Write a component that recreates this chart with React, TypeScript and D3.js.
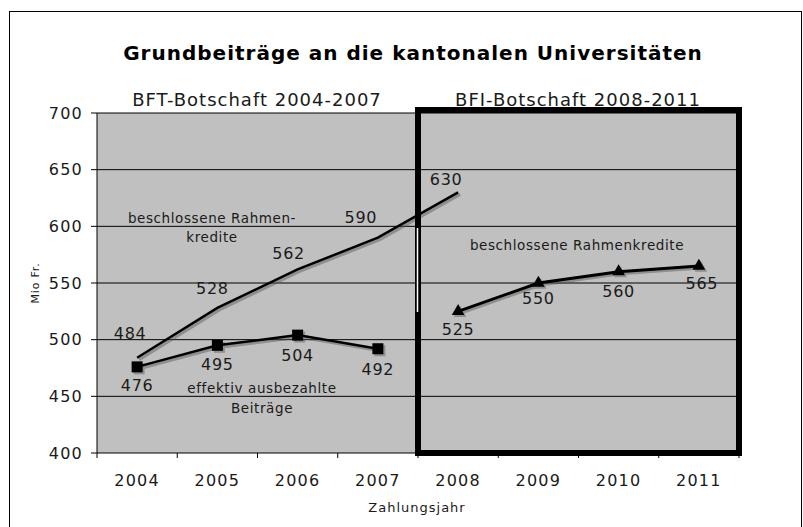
import React from "react";
import * as d3 from "d3";

// values
const years = ["2004", "2005", "2006", "2007", "2008", "2009", "2010", "2011"];
const rahmenYears = ["2004", "2005", "2006", "2007", "2008"];
const rahmenValues = [484, 528, 562, 590, 630];
const effektivYears = ["2004", "2005", "2006", "2007"];
const effektivValues = [476, 495, 504, 492];
const bfiYears = ["2008", "2009", "2010", "2011"];
const bfiValues = [525, 550, 560, 565];
const yTicks = [400, 450, 500, 550, 600, 650, 700];

const FONT = "'DejaVu Sans', Verdana, sans-serif";
const INK = "#1a1a1a";

export default function App() {
  const width = 803;
  const height = 527;
  const left = 97;
  const right = 739;
  const top = 113;
  const bottom = 453;

  const x = d3.scaleBand().domain(years).range([left, right]).padding(0);
  const y = d3.scaleLinear().domain([400, 700]).range([bottom, top]);
  const cx = (yr) => x(yr) + x.bandwidth() / 2;

  const line = d3.line().x((d) => cx(d[0])).y((d) => y(d[1]));

  const rahmen = rahmenYears.map((yr, i) => [yr, rahmenValues[i]]);
  const effektiv = effektivYears.map((yr, i) => [yr, effektivValues[i]]);
  const bfi = bfiYears.map((yr, i) => [yr, bfiValues[i]]);

  // label offsets relative to the point (centre of text)
  const rahmenOff = [[-7, -24], [-5, -19], [-9, -16], [-17, -20], [-12, -13]];
  const effOff = [[0, 19], [0, 19], [0, 20], [0, 21]];
  const bfiOff = [[0, 18], [0, 15], [0, 20], [3, 17]];

  const tri = d3.symbol().type(d3.symbolTriangle).size(70);

  // box around the BFI period
  const boxL = x("2008");
  const boxR = right;

  const label = { fontFamily: FONT, fontSize: 16, letterSpacing: 0.7, fill: INK };
  const note = { fontFamily: FONT, fontSize: 13.5, letterSpacing: 0.6, fill: INK };

  return (
    <svg width={width} height={height} style={{ position: "absolute", left: 0, top: 0 }}>
      <rect x={0} y={0} width={width} height={height} fill="#fff" />
      <rect x={9.5} y={11.5} width={792} height={530} fill="none" stroke="#000" strokeWidth={1} />

      <text x={413} y={53} textAnchor="middle" dominantBaseline="central"
        fontFamily={FONT} fontWeight="bold" fontSize={20} letterSpacing={1} fill="#000">
        Grundbeiträge an die kantonalen Universitäten
      </text>
      <text x={257} y={99} textAnchor="middle" dominantBaseline="central" fontFamily={FONT} fontSize={18} letterSpacing={1} fill={INK}>
        BFT-Botschaft 2004-2007
      </text>
      <text x={578} y={99} textAnchor="middle" dominantBaseline="central" fontFamily={FONT} fontSize={18} letterSpacing={1} fill={INK}>
        BFI-Botschaft 2008-2011
      </text>

      {/* plot area */}
      <rect x={left} y={top} width={right - left} height={bottom - top} fill="#c0c0c0" />
      {yTicks.slice(1).map((t) => (
        <line key={t} x1={left} x2={right} y1={y(t)} y2={y(t)} stroke="#000" strokeWidth={1} />
      ))}
      <line x1={left} x2={left} y1={top} y2={bottom} stroke="#000" />
      <line x1={left} x2={right} y1={bottom} y2={bottom} stroke="#000" />
      {yTicks.map((t) => (
        <g key={t}>
          <line x1={left - 6} x2={left} y1={y(t)} y2={y(t)} stroke="#000" />
          <text x={83} y={y(t)} textAnchor="end" dominantBaseline="central" fontFamily={FONT} fontSize={16} letterSpacing={1.2} fill={INK}>
            {t}
          </text>
        </g>
      ))}
      {years.concat(["end"]).map((yr, i) => {
        const xx = i < years.length ? x(yr) : right;
        return <line key={yr} x1={xx} x2={xx} y1={bottom} y2={bottom + 5} stroke="#000" />;
      })}
      {years.map((yr) => (
        <text key={yr} x={cx(yr)} y={480} textAnchor="middle" dominantBaseline="central" fontFamily={FONT} fontSize={16} letterSpacing={1.2} fill={INK}>
          {yr}
        </text>
      ))}
      <text x={417} y={507} textAnchor="middle" dominantBaseline="central" fontFamily={FONT} fontSize={13} letterSpacing={1} fill={INK}>
        Zahlungsjahr
      </text>
      <text transform="translate(35,283) rotate(-90)" textAnchor="middle" dominantBaseline="central" fontFamily={FONT} fontSize={11} letterSpacing={0.8} fill={INK}>
        Mio Fr.
      </text>

      {/* shadows */}
      <g transform="translate(2,2)" opacity={0.45}>
        <path d={line(rahmen)} fill="none" stroke="#555" strokeWidth={3} />
        <path d={line(effektiv)} fill="none" stroke="#555" strokeWidth={3} />
        <path d={line(bfi)} fill="none" stroke="#555" strokeWidth={3} />
        {effektiv.map((d) => (
          <rect key={d[0]} x={cx(d[0]) - 5.5} y={y(d[1]) - 5.5} width={11} height={11} fill="#555" />
        ))}
        {bfi.map((d) => (
          <path key={d[0]} d={tri()} transform={`translate(${cx(d[0])},${y(d[1])})`} fill="#555" />
        ))}
      </g>

      {/* BFI box */}
      <rect x={boxL} y={110} width={boxR - boxL} height={bottom - 110} fill="none" stroke="#000" strokeWidth={6} />
      <line x1={boxL - 0.5} x2={boxL - 0.5} y1={228} y2={312} stroke="#fff" strokeWidth={1.5} />

      <path d={line(rahmen)} fill="none" stroke="#000" strokeWidth={2.5} />
      <path d={line(effektiv)} fill="none" stroke="#000" strokeWidth={2.5} />
      <path d={line(bfi)} fill="none" stroke="#000" strokeWidth={3} />
      {effektiv.map((d) => (
        <rect key={d[0]} x={cx(d[0]) - 5.5} y={y(d[1]) - 5.5} width={11} height={11} fill="#000" />
      ))}
      {bfi.map((d) => (
        <path key={d[0]} d={tri()} transform={`translate(${cx(d[0])},${y(d[1])})`} fill="#000" />
      ))}

      {/* value labels */}
      {rahmen.map((d, i) => (
        <text key={d[0]} x={cx(d[0]) + rahmenOff[i][0]} y={y(d[1]) + rahmenOff[i][1]} textAnchor="middle"
          dominantBaseline="central" {...label}>{d[1]}</text>
      ))}
      {effektiv.map((d, i) => (
        <text key={d[0]} x={cx(d[0]) + effOff[i][0]} y={y(d[1]) + effOff[i][1]} textAnchor="middle"
          dominantBaseline="central" {...label}>{d[1]}</text>
      ))}
      {bfi.map((d, i) => (
        <text key={d[0]} x={cx(d[0]) + bfiOff[i][0]} y={y(d[1]) + bfiOff[i][1]} textAnchor="middle"
          dominantBaseline="central" {...label}>{d[1]}</text>
      ))}

      {/* annotations */}
      <text x={212} y={218} textAnchor="middle" dominantBaseline="central" {...note}>beschlossene Rahmen-</text>
      <text x={212} y={237} textAnchor="middle" dominantBaseline="central" {...note}>kredite</text>
      <text x={262} y={388} textAnchor="middle" dominantBaseline="central" {...note}>effektiv ausbezahlte</text>
      <text x={262} y={408} textAnchor="middle" dominantBaseline="central" {...note}>Beiträge</text>
      <text x={577} y={245} textAnchor="middle" dominantBaseline="central" {...note}>beschlossene Rahmenkredite</text>
    </svg>
  );
}
